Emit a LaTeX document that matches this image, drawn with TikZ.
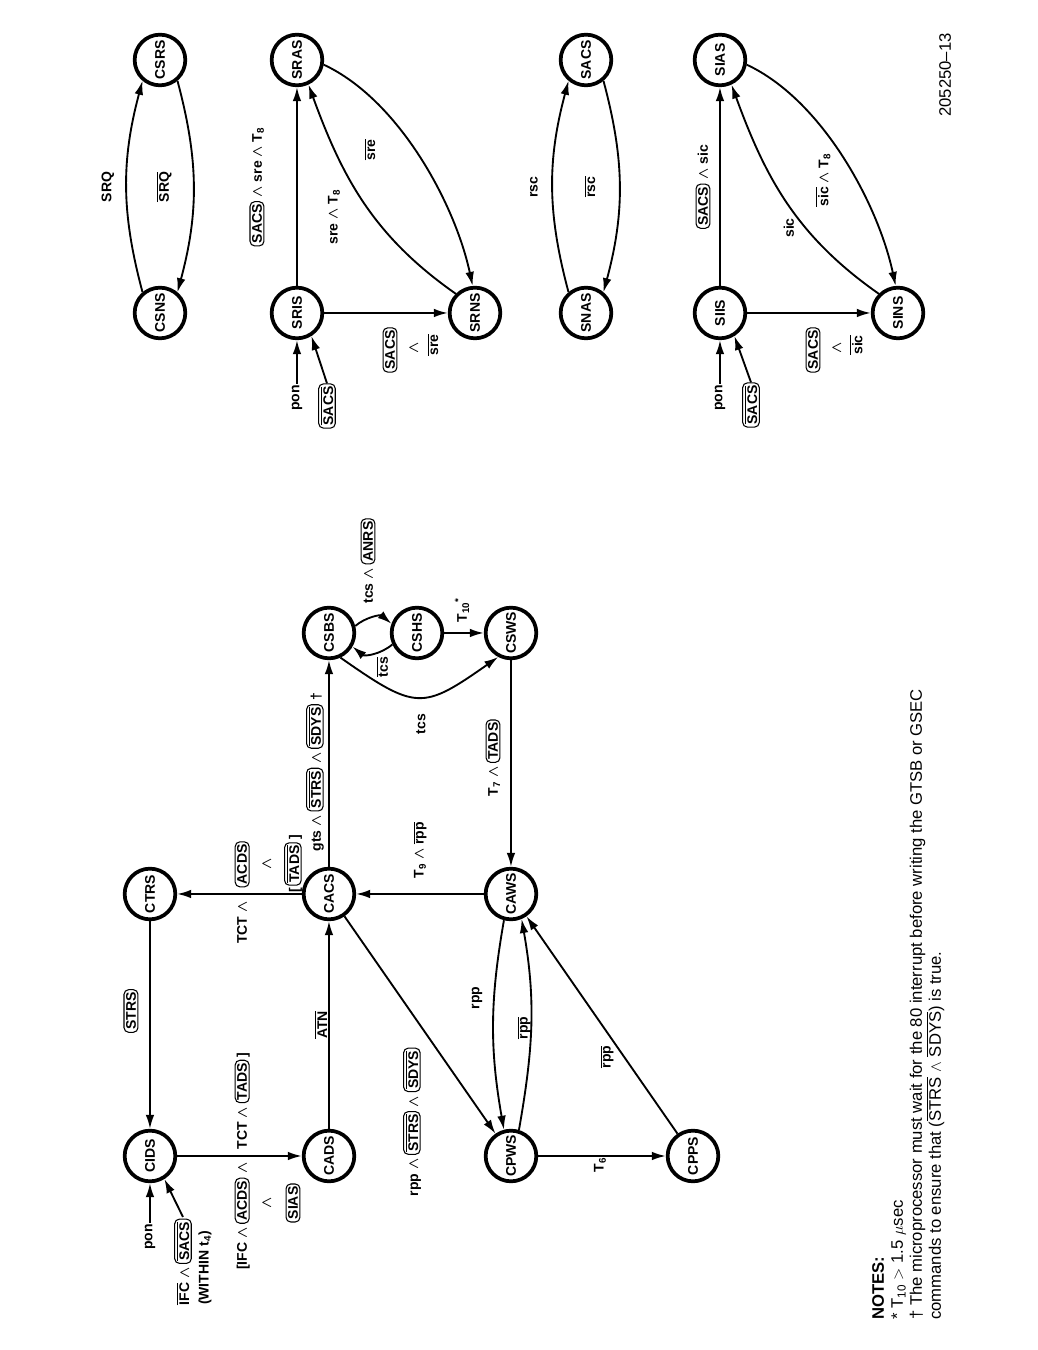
\documentclass[tikz,border=0pt]{standalone}
\usepackage{fontspec}
\setmainfont{Liberation Sans}
\usetikzlibrary{arrows.meta}
\newcommand\ol[1]{\ensuremath{\overline{\mbox{#1}}}}
\newcommand\wg{{\boldmath$\wedge$}}
\newcommand\an{~\wg~}
\newcommand\bx[1]{\tikz[baseline=(bxn.base)]\node[draw,line width=0.8pt,rounded corners=3.5pt,inner xsep=2pt,inner ysep=1.5pt](bxn){#1};}
\newcommand\sub[1]{\textsubscript{#1}}
\tikzset{
 st/.style={circle,draw,line width=2.8pt,minimum size=38pt,inner sep=0pt,font=\bfseries\fontsize{10.5}{12}\selectfont},
 conn/.style={line width=1.4pt,-{Latex[length=10.5pt,width=6.5pt]}},
 lab/.style={font=\bfseries\fontsize{10.5}{12}\selectfont,inner sep=1pt},
 bxl/.style={draw,line width=0.8pt,rounded corners=3.5pt,inner xsep=2pt,inner ysep=1.5pt,font=\bfseries\fontsize{10.5}{12}\selectfont},
 note/.style={font=\fontsize{12.5}{15}\selectfont,inner sep=0pt,anchor=base west},
}
\begin{document}
\begin{tikzpicture}[x=0.75pt,y=0.75pt]
\begin{scope}[rotate=90,transform shape]
\path[use as bounding box] (0,0) rectangle (1350,1038);
% ---------------- controller function ----------------
\node[st] (CIDS) at (194,888) {CIDS};
\node[st] (CTRS) at (456,888) {CTRS};
\node[st] (CADS) at (194,709) {CADS};
\node[st] (CACS) at (456,709) {CACS};
\node[st] (CSBS) at (717,709) {CSBS};
\node[st] (CSHS) at (717,621) {CSHS};
\node[st] (CSWS) at (717,527) {CSWS};
\node[st] (CAWS) at (456,527) {CAWS};
\node[st] (CPWS) at (194,527) {CPWS};
\node[st] (CPPS) at (194,345) {CPPS};

\node[lab] (lpon) at (113,888) {pon};
\draw[conn] (lpon) -- (CIDS);
\node[lab,anchor=east] (lifc1) at (133,855) {\ol{IFC}\an\bx{\ol{SACS}}};
\node[lab] (lwith) at (82,833) {(WITHIN t\sub{4})};
\draw[conn] (lifc1.east) -- (CIDS.212);

\draw[conn] (CTRS) -- (CIDS);
\node[bxl] (lstrs) at (339,907) {STRS};

\draw[conn] (CIDS) -- (CADS);
\node[lab,anchor=base east] (lifa) at (189,791) {[IFC\an\bx{ACDS}\an};
\node[lab,anchor=base west] (lifb) at (199,791) {TCT\an\bx{TADS}\,]};
\node[lab] (lifw) at (147,771) {\wg};
\node[bxl] (lsias) at (147,745) {SIAS};

\draw[conn] (CADS) -- (CACS);
\node[lab] (latn) at (325,717) {\ol{ATN}};

\draw[conn] (CACS) -- (CTRS);
\node[lab,anchor=base east] (ltct1) at (450,791) {TCT\an};
\node[lab,anchor=base west] (ltct2) at (461,791) {\bx{ACDS}};
\node[lab] (ltct3) at (486,771) {\wg};
\node[lab] (ltct4) at (486,745) {[\,\bx{\ol{TADS}}\,]};

\draw[conn] (CACS) -- (CSBS);
\node[lab] (lgts) at (578,723) {gts\an\bx{\ol{STRS}}\an\bx{\ol{SDYS}}~\dag};

\draw[conn] (CAWS) -- (CACS);
\node[lab] (lt9) at (500,618) {T\sub{9}\an\ol{rpp}};

\draw[conn] (CSWS) -- (CAWS);
\node[lab] (lt7) at (592,545) {T\sub{7}\an\bx{TADS}};

\draw[conn] (CSBS.205) to[out=235,in=125,looseness=1.5] (CSWS.152);
\node[lab] (ltcs) at (626,617) {tcs};

\draw[conn] (CSBS.-75) to[out=-50,in=50] (CSHS.70);
\node[lab] (ltcsa) at (789,670) {tcs\an\bx{ANRS}};
\draw[conn] (CSHS.115) to[out=130,in=230] (CSBS.240);
\node[lab] (ltcsb) at (683,656) {\ol{tcs}};

\draw[conn] (CSHS) -- (CSWS);
\node[lab] (lt10) at (740,576) {T\sub{10}\textsuperscript{*}};

\draw[conn] (CAWS.165) to[out=170,in=10] (CPWS.15);
\node[lab] (lrpp1) at (352,561) {rpp};
\draw[conn] (CPWS.-17) to[out=-10,in=190] (CAWS.-157);
\node[lab] (lrpp2) at (322,514) {\ol{rpp}};

\draw[conn] (CPPS) -- (CAWS);
\node[lab] (lrpp3) at (293,431) {\ol{rpp}};

\draw[conn] (CPWS) -- (CPPS);
\node[lab] (lt6) at (185,438) {T\sub{6}};

\draw[conn] (CACS) -- (CPWS);
\node[lab] (lrpp4) at (228,626) {rpp\an\bx{\ol{STRS}}\an\bx{\ol{SDYS}}};

% ---------------- system control: SRQ ----------------
\node[st] (CSNS) at (1037,878) {CSNS};
\node[st] (CSRS) at (1290,878) {CSRS};
\draw[conn] (CSNS.40) to[bend left=15] (CSRS.140);
\node[lab] (lsrq) at (1163,930) {SRQ};
\draw[conn] (CSRS.220) to[bend left=15] (CSNS.-40);
\node[lab] (lsrqb) at (1163,874) {\ol{SRQ}};

% ---------------- remote enable ----------------
\node[st] (SRIS) at (1037,741) {SRIS};
\node[st] (SRAS) at (1290,741) {SRAS};
\node[st] (SRNS) at (1037,563) {SRNS};
\node[lab] (lpon2) at (952,741) {pon};
\draw[conn] (lpon2) -- (SRIS);
\node[bxl] (lsacs2) at (944,711) {\ol{SACS}};
\draw[conn] (lsacs2.east) -- (SRIS.212);
\draw[conn] (SRIS) -- (SRAS);
\node[lab] (lsre1) at (1163,781) {\bx{SACS}\an sre\an T\sub{8}};
\draw[conn] (SRIS) -- (SRNS);
\node[bxl] (lsre2a) at (1000,648) {SACS};
\node[lab] (lsre2b) at (1002,624) {\wg};
\node[lab] (lsre2c) at (1005,605) {\ol{sre}};
\draw[conn] (SRNS.45) to[out=55,in=200] (SRAS.205);
\node[lab] (lsre3) at (1133,704) {sre\an T\sub{8}};
\draw[conn] (SRAS.260) to[out=245,in=12,looseness=0.8] (SRNS.5);
\node[lab] (lsre4) at (1200,668) {\ol{sre}};

% ---------------- system control active ----------------
\node[st] (SNAS) at (1037,452) {SNAS};
\node[st] (SACS) at (1290,452) {SACS};
\draw[conn] (SNAS.40) to[bend left=15] (SACS.140);
\node[lab] (lrsc) at (1163,504) {rsc};
\draw[conn] (SACS.220) to[bend left=15] (SNAS.-40);
\node[lab] (lrscb) at (1163,448) {\ol{rsc}};

% ---------------- interface clear ----------------
\node[st] (SIIS) at (1037,318) {SIIS};
\node[st] (SIAS) at (1290,318) {SIAS};
\node[st] (SINS) at (1037,140) {SINS};
\node[lab] (lpon3) at (952,318) {pon};
\draw[conn] (lpon3) -- (SIIS);
\node[bxl] (lsacs3) at (945,287) {\ol{SACS}};
\draw[conn] (lsacs3.east) -- (SIIS.212);
\draw[conn] (SIIS) -- (SIAS);
\node[lab] (lsic1) at (1163,335) {\bx{SACS}\an sic};
\draw[conn] (SIIS) -- (SINS);
\node[bxl] (lsic2a) at (1000,225) {SACS};
\node[lab] (lsic2b) at (1002,201) {\wg};
\node[lab] (lsic2c) at (1005,182) {\ol{sic}};
\draw[conn] (SINS.45) to[out=55,in=200] (SIAS.205);
\node[lab] (lsic3) at (1122,249) {sic};
\draw[conn] (SIAS.260) to[out=245,in=12,looseness=0.8] (SINS.5);
\node[lab] (lsic4) at (1170,215) {\ol{sic}\an T\sub{8}};

% ---------------- notes ----------------
\node[note,font=\bfseries\fontsize{12.5}{15}\selectfont] (n0) at (30,154) {NOTES:};
\node[note] (n1) at (30,135) {* T\sub{10} $>$ 1.5 $\mu$sec};
\node[note] (n2) at (30,116) {\dag\ The microprocessor must wait for the 80 interrupt before writing the GTSB or GSEC};
\node[note] (n3) at (30,97) {commands to ensure that (\ol{STRS} $\wedge$ \ol{SDYS}) is true.};
\node[note,anchor=base east] (fig) at (1317,87) {205250--13};
\end{scope}
\end{tikzpicture}
\end{document}
